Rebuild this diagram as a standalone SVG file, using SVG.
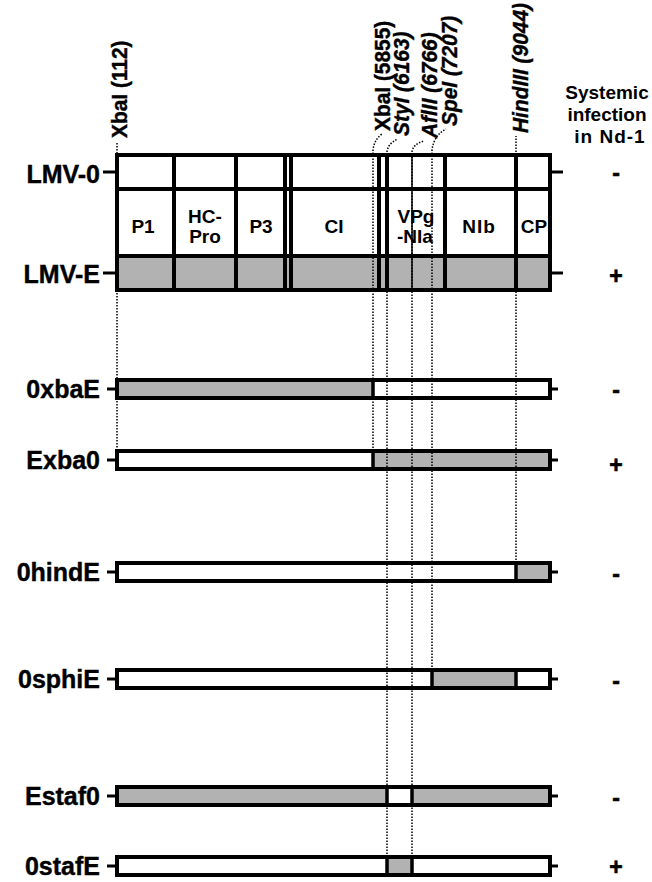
<svg xmlns="http://www.w3.org/2000/svg" width="652" height="882" viewBox="0 0 652 882">
<style>
text{font-family:"Liberation Sans",Arial,sans-serif;font-weight:bold;fill:#000}
.row{font-size:25px;text-anchor:end;stroke:#000;stroke-width:0.4}
.seg{font-size:19px;text-anchor:middle}
.site{font-size:22px;stroke:#000;stroke-width:0.4}
.it{font-style:italic}
.hdr{font-size:19px;text-anchor:middle}
.sign{font-size:23px;text-anchor:middle;stroke:#000;stroke-width:0.6}
.box{stroke:#000;stroke-width:4;fill:none}
.div{stroke:#000;stroke-width:4}
.bar{stroke:#000;stroke-width:4}
.bd{stroke:#000;stroke-width:3.5}
.tick{stroke:#000;stroke-width:3}
.dot{stroke:#000;stroke-width:1.5;stroke-dasharray:1.5 1.5;fill:none}
.w{fill:#fff}
.g{fill:#b2b2b2}
</style>

<g id="header">
<text class="hdr" x="607" y="99">Systemic</text>
<text class="hdr" x="607" y="121">infection</text>
<text class="hdr" x="610" y="143" letter-spacing="1">in Nd-1</text>
</g>

<g id="site-labels">
<text class="site" transform="translate(127,138) rotate(-90) scale(0.95,1)">XbaI (112)</text>
<text class="site" transform="translate(390,131) rotate(-90) scale(0.95,1)">XbaI (5855)</text>
<text class="site it" transform="translate(409,136) rotate(-90) scale(0.95,1)">StyI (6163)</text>
<text class="site it" transform="translate(437,138) rotate(-90) scale(0.95,1)">AflII (6766)</text>
<text class="site it" transform="translate(457,126) rotate(-90) scale(0.95,1)">SpeI (7207)</text>
<text class="site it" transform="translate(528,133) rotate(-90) scale(0.95,1)">HindIII (9044)</text>
</g>

<g id="LMV">
<rect class="w" x="117" y="155" width="433" height="101"/>
<rect class="g" x="117" y="256" width="433" height="34"/>
<line class="div" x1="117" y1="189" x2="550" y2="189"/>
<line class="div" x1="117" y1="256" x2="550" y2="256"/>
<line class="div" x1="174" y1="155" x2="174" y2="290"/>
<line class="div" x1="236" y1="155" x2="236" y2="290"/>
<line class="div" x1="285" y1="155" x2="285" y2="290"/>
<line class="div" x1="291" y1="155" x2="291" y2="290"/>
<line class="div" x1="379" y1="155" x2="379" y2="290"/>
<line class="div" x1="387" y1="155" x2="387" y2="290"/>
<line class="div" x1="445" y1="155" x2="445" y2="290"/>
<line class="div" x1="516" y1="155" x2="516" y2="290"/>
<line stroke="#000" stroke-width="1.5" x1="412" y1="155" x2="412" y2="290"/>
<rect class="box" x="117" y="155" width="433" height="135"/>
<text class="seg" x="143" y="233">P1</text>
<text class="seg" x="205" y="223">HC-</text>
<text class="seg" x="205" y="243">Pro</text>
<text class="seg" x="261" y="233">P3</text>
<text class="seg" x="334" y="233">CI</text>
<text class="seg" x="416" y="223">VPg</text>
<text class="seg" x="415" y="243">-NIa</text>
<text class="seg" x="479" y="233" letter-spacing="1">NIb</text>
<text class="seg" x="534" y="233">CP</text>
<line class="tick" x1="103" y1="172" x2="117" y2="172"/>
<line class="tick" x1="550" y1="172" x2="563" y2="172"/>
<line class="tick" x1="103" y1="273" x2="117" y2="273"/>
<line class="tick" x1="550" y1="273" x2="563" y2="273"/>
<text class="row" x="100" y="183">LMV-0</text>
<text class="row" x="100" y="283">LMV-E</text>
<text class="sign" x="616" y="181">-</text>
<text class="sign" x="616" y="284">+</text>
</g>

<g id="0xbaE">
<line class="tick" x1="107" y1="389" x2="117" y2="389"/>
<line class="tick" x1="550" y1="389" x2="558" y2="389"/>
<rect class="g" x="117" y="380" width="256" height="18"/>
<rect class="w" x="373" y="380" width="177" height="18"/>
<line class="bd" x1="373" y1="380" x2="373" y2="398"/>
<rect class="bar" fill="none" x="117" y="380" width="433" height="18"/>
<text class="row" x="100" y="398">0xbaE</text>
<text class="sign" x="616" y="398">-</text>
</g>

<g id="Exba0">
<line class="tick" x1="107" y1="460" x2="117" y2="460"/>
<line class="tick" x1="550" y1="460" x2="558" y2="460"/>
<rect class="w" x="117" y="451" width="256" height="18"/>
<rect class="g" x="373" y="451" width="177" height="18"/>
<line class="bd" x1="373" y1="451" x2="373" y2="469"/>
<rect class="bar" fill="none" x="117" y="451" width="433" height="18"/>
<text class="row" x="100" y="469">Exba0</text>
<text class="sign" x="616" y="473">+</text>
</g>

<g id="0hindE">
<line class="tick" x1="107" y1="572" x2="117" y2="572"/>
<line class="tick" x1="550" y1="572" x2="558" y2="572"/>
<rect class="w" x="117" y="563" width="399" height="18"/>
<rect class="g" x="516" y="563" width="34" height="18"/>
<line class="bd" x1="516" y1="563" x2="516" y2="581"/>
<rect class="bar" fill="none" x="117" y="563" width="433" height="18"/>
<text class="row" x="100" y="581">0hindE</text>
<text class="sign" x="616" y="582">-</text>
</g>

<g id="0sphiE">
<line class="tick" x1="107" y1="679" x2="117" y2="679"/>
<line class="tick" x1="550" y1="679" x2="558" y2="679"/>
<rect class="w" x="117" y="670" width="433" height="18"/>
<rect class="g" x="432" y="670" width="84" height="18"/>
<line class="bd" x1="432" y1="670" x2="432" y2="688"/>
<line class="bd" x1="516" y1="670" x2="516" y2="688"/>
<rect class="bar" fill="none" x="117" y="670" width="433" height="18"/>
<text class="row" x="100" y="688">0sphiE</text>
<text class="sign" x="616" y="689">-</text>
</g>

<g id="Estaf0">
<line class="tick" x1="107" y1="796" x2="117" y2="796"/>
<line class="tick" x1="550" y1="796" x2="558" y2="796"/>
<rect class="g" x="117" y="787" width="433" height="18"/>
<rect class="w" x="387" y="787" width="25" height="18"/>
<line class="bd" x1="387" y1="787" x2="387" y2="805"/>
<line class="bd" x1="412" y1="787" x2="412" y2="805"/>
<rect class="bar" fill="none" x="117" y="787" width="433" height="18"/>
<text class="row" x="100" y="805">Estaf0</text>
<text class="sign" x="616" y="806">-</text>
</g>

<g id="0stafE">
<line class="tick" x1="107" y1="866" x2="117" y2="866"/>
<line class="tick" x1="550" y1="866" x2="558" y2="866"/>
<rect class="w" x="117" y="857" width="433" height="18"/>
<rect class="g" x="387" y="857" width="25" height="18"/>
<line class="bd" x1="387" y1="857" x2="387" y2="875"/>
<line class="bd" x1="412" y1="857" x2="412" y2="875"/>
<rect class="bar" fill="none" x="117" y="857" width="433" height="18"/>
<text class="row" x="100" y="875">0stafE</text>
<text class="sign" x="616" y="875">+</text>
</g>

<g id="connectors">
<path class="dot" d="M117,143 V451"/>
<path class="dot" d="M373,451 V150 Q374,140 382,134"/>
<path class="dot" d="M387,857 V152 Q388,143 398,139"/>
<path class="dot" d="M412,857 V152 Q413,144 424,141"/>
<path class="dot" d="M432,670 V150 Q434,135 446,129"/>
<path class="dot" d="M516,563 V136"/>
</g>
</svg>
